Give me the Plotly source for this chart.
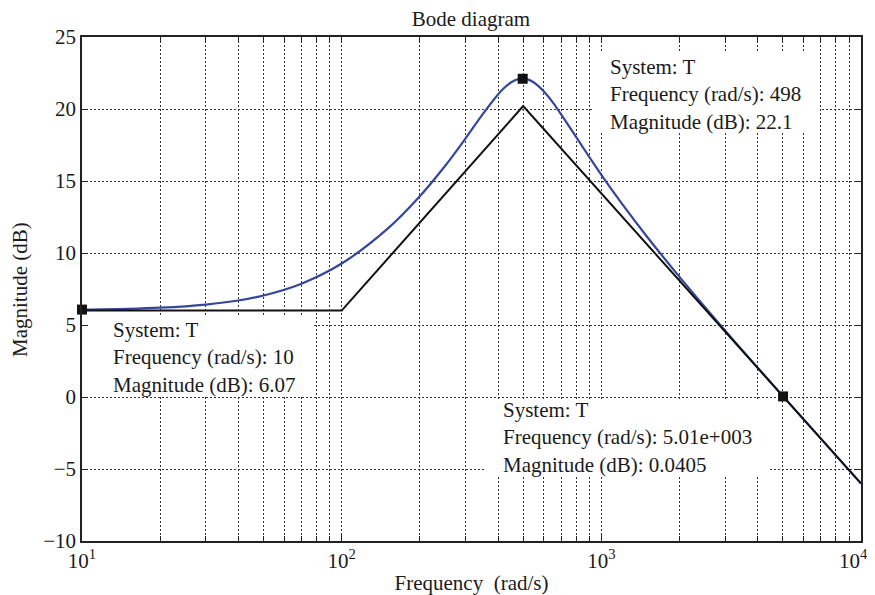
import plotly.graph_objects as go

# Data
freq = [10, 15, 20, 30, 40, 50, 70, 100, 150, 200, 250, 300, 350, 400, 420, 450,
        480, 498, 520, 550, 600, 650, 700, 800, 900, 1000, 1200, 1500, 2000, 3000,
        5000, 7000, 10000]
mag = [6.07, 6.12, 6.20, 6.42, 6.70, 7.05, 7.87, 9.27, 11.67, 13.94, 16.04, 17.96,
       19.66, 21.01, 21.42, 21.86, 22.08, 22.11, 22.06, 21.84, 21.23, 20.46, 19.63,
       18.05, 16.65, 15.43, 13.43, 11.13, 8.34, 4.61, 0.06, -2.89, -6.01]

asym_freq = [10, 100, 500, 10000]
asym_mag = [6, 6, 20.2, -6]

tip_freq = [10, 498, 5010]
tip_mag = [6.07, 22.1, 0.0405]
tip_freq_text = ["10", "498", "5.01e+003"]
tip_mag_text = ["6.07", "22.1", "0.0405"]

xtick_vals = [10, 100, 1000, 10000]
xtick_text = ["10<sup>1</sup>", "10<sup>2</sup>", "10<sup>3</sup>", "10<sup>4</sup>\u00a0\u00a0\u00a0"]
ytick_vals = [-10, -5, 0, 5, 10, 15, 20, 25]
ytick_text = ["\u221210", "\u22125", "0", "5", "10", "15", "20", "25"]

FONT = "Liberation Serif"
TXT = "#1a1a1a"
OFF = 8  # page body margin
W, H = 875 - OFF, 595 - OFF
L, R, T, B = 82 - OFF, 14, 37 - OFF, 54
PW, PH = W - L - R, H - T - B
X0, Y1 = 82, 541  # plot area on screen


def px(x):
    return (x - X0) / PW


def py(y):
    return (Y1 - y) / PH


fig = go.Figure()
fig.add_trace(go.Scatter(x=freq, y=mag, mode="lines", line=dict(color="#35479a", width=2.2, shape="spline"),
                         showlegend=False))
fig.add_trace(go.Scatter(x=asym_freq, y=asym_mag, mode="lines", line=dict(color="#111111", width=2),
                         showlegend=False))
fig.add_trace(go.Scatter(x=tip_freq, y=tip_mag, mode="markers", cliponaxis=False,
                         marker=dict(symbol="square", size=10, color="#111111"), showlegend=False))

# datatip boxes (screen pixel positions from reference)
boxes = [
    dict(x0=592, x1=820, y0=53, y1=133, tx=608, ty=94, i=1),
    dict(x0=88, x1=312, y0=317, y1=396, tx=111, ty=357, i=0),
    dict(x0=485, x1=770, y0=400, y1=477, tx=501, ty=437, i=2),
]
for b in boxes:
    fig.add_shape(type="rect", xref="paper", yref="paper",
                  x0=px(b["x0"]), x1=px(b["x1"]), y0=py(b["y1"]), y1=py(b["y0"]),
                  fillcolor="white", line=dict(width=0), layer="above")
    i = b["i"]
    fig.add_annotation(xref="paper", yref="paper", x=px(b["tx"]), y=py(b["ty"]),
                       xanchor="left", yanchor="middle", align="left", showarrow=False,
                       text=f"System: T<br>Frequency (rad/s): {tip_freq_text[i]}<br>Magnitude (dB): {tip_mag_text[i]}",
                       font=dict(family=FONT, size=21, color=TXT))

# y-axis title placed as in the reference
fig.add_annotation(xref="paper", yref="paper", x=px(20), y=0.5, xanchor="center", yanchor="middle",
                   textangle=-90, showarrow=False, text="Magnitude (dB)",
                   font=dict(family=FONT, size=21, color=TXT))

grid_common = dict(gridcolor="#333333", gridwidth=1, griddash="2px,2px")

fig.update_xaxes(type="log", range=[1, 4], tickvals=xtick_vals, ticktext=xtick_text,
                 automargin=False, ticklabeloverflow="allow",
                 showline=True, linecolor="#222222", linewidth=1.5, mirror="ticks",
                 ticks="inside", ticklen=6, tickcolor="#222222",
                 showgrid=True, **grid_common, zeroline=False,
                 minor=dict(dtick="D1", ticks="inside", ticklen=5, tickcolor="#222222",
                            showgrid=True, gridcolor="#333333", gridwidth=1, griddash="2px,2px"),
                 title=dict(text="Frequency  (rad/s)", font=dict(family=FONT, size=21, color=TXT),
                            standoff=4),
                 tickfont=dict(family=FONT, size=21, color=TXT))
fig.update_yaxes(range=[-10, 25], tickvals=ytick_vals, ticktext=ytick_text,
                 automargin=False,
                 showline=True, linecolor="#222222", linewidth=1.5, mirror="ticks",
                 ticks="inside", ticklen=6, tickcolor="#222222",
                 showgrid=True, **grid_common, zeroline=False,
                 tickfont=dict(family=FONT, size=21, color=TXT))

fig.update_layout(
    width=W, height=H,
    margin=dict(l=L, r=R, t=T, b=B, autoexpand=False),
    paper_bgcolor="white", plot_bgcolor="white",
    title=dict(text="Bode diagram", x=px(471), xanchor="center", xref="paper",
               y=1 - (19 - OFF) / H, yanchor="middle", yref="container",
               font=dict(family=FONT, size=21, color=TXT)),
)

fig.write_html("out.html")
